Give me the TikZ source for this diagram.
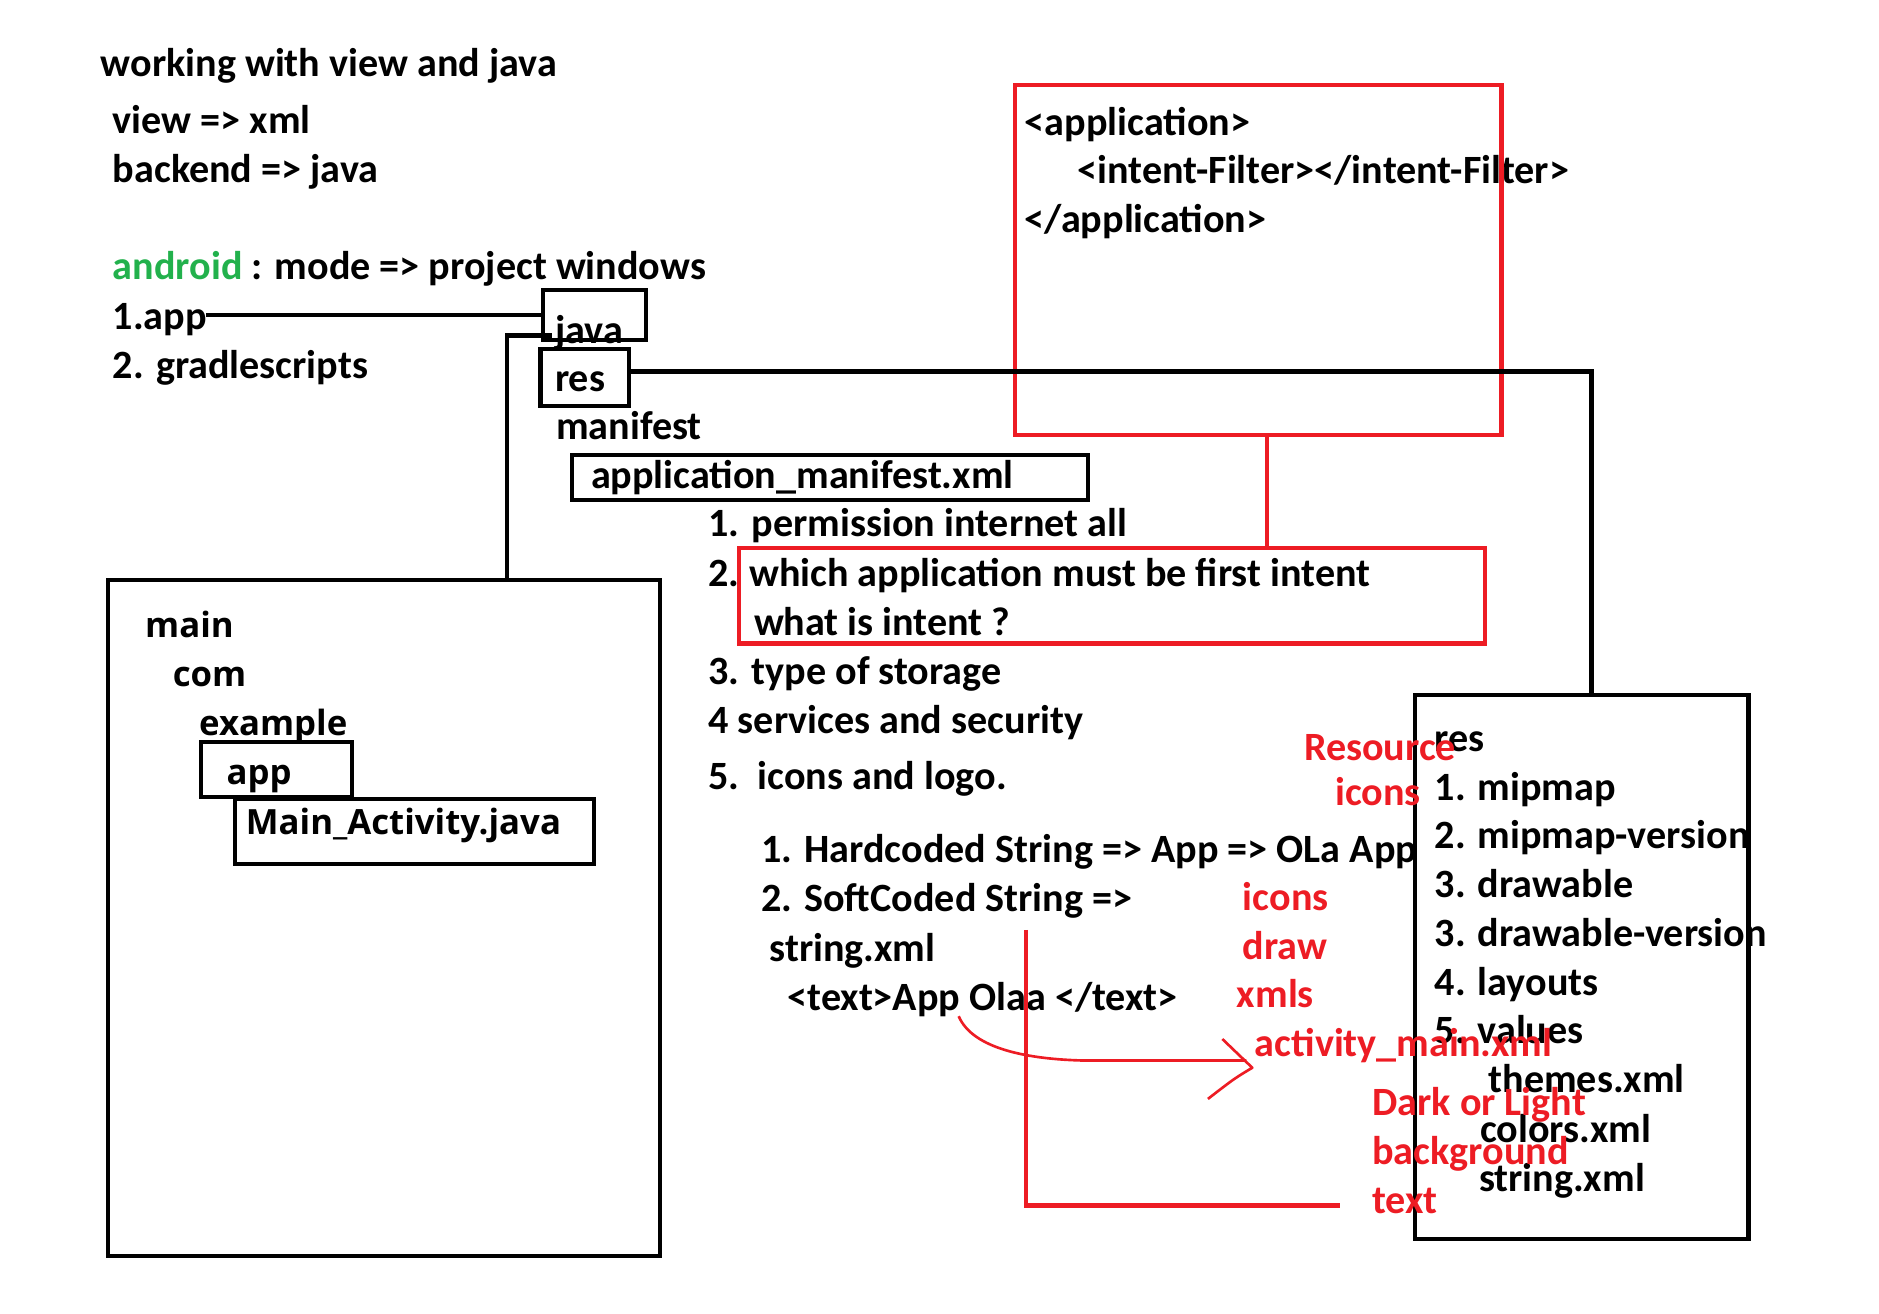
\documentclass[tikz,border=0pt]{standalone}
\usepackage{fontspec}
\setmainfont{Carlito}
\newfontfamily\wide{Open Sans}
\definecolor{pred}{HTML}{ED1C24}
\definecolor{pgreen}{HTML}{22B14C}
\tikzset{
  txt/.style={anchor=base west, inner sep=0pt, font=\fontsize{33.5}{40}\selectfont\bfseries},
  wtxt/.style={anchor=base west, inner sep=0pt, font=\wide\fontsize{29}{36}\selectfont\bfseries},
  rtxt/.style={txt, text=pred},
  bbox/.style={draw=black, line width=3.5pt, anchor=north west, inner sep=0pt, outer sep=0pt},
  rbox/.style={draw=pred, line width=3.5pt, anchor=north west, inner sep=0pt, outer sep=0pt},
  bline/.style={draw=black, line width=3.5pt},
  rline/.style={draw=pred, line width=3.5pt},
}
\begin{document}
\begin{tikzpicture}[x=1pt,y=-1pt]
\useasboundingbox (0,0) rectangle (1568,1096);
% top-left texts
\node[txt] (t1) at (84,64) {working with view and java};
\node[txt] (t2) at (94,111) {view => xml};
\node[txt] (t3) at (94,152) {backend => java};
\node[txt] (t4) at (94,233) {\textcolor{pgreen}{android} : mode => project windows};
\node[txt] (napp) at (94,275) {1.app};
\node[txt] (t6) at (94,316) {2. gradlescripts};
\node[txt] (tjava) at (463,287) {java};
\node[txt] (tres) at (463,327) {res};
\node[txt] (tman) at (464,367) {manifest};
\node[txt] (tamx) at (493,408) {application\_manifest.xml};
\node[txt] (p1) at (591,448) {1. permission internet all};
\node[txt] (p2) at (591,489) {2.};
\node[txt] (p2a) at (625,489) {which application must be first intent};
\node[txt] (p2b) at (629,530) {what is intent ?};
\node[txt] (p3) at (591,571) {3. type of storage};
\node[txt] (p4) at (591,612) {4 services and security};
\node[txt] (p5) at (591,659) {5.\ \ icons and logo.};
\node[txt] (h1) at (635,720) {1. Hardcoded String => App => OLa App};
\node[txt] (h2) at (635,761) {2. SoftCoded String =>};
\node[txt] (h3) at (642,802) {string.xml};
\node[txt] (h4) at (657,843) {<text>App Olaa </text>};
% application box texts
\node[txt] (a1) at (855,113) {<application>};
\node[txt] (a2) at (899,153) {<intent-Filter></intent-Filter>};
\node[txt] (a3) at (855,194) {</application>};
% main box texts
\node[wtxt] (m1) at (121,532) {main};
\node[wtxt] (m2) at (144,573) {com};
\node[wtxt] (m3) at (166,614) {example};
\node[wtxt] (m4) at (189,655) {app};
\node[wtxt] (m5) at (205,696) {Main\_Activity.java};
% res box texts
\node[txt] (r0) at (1197,627) {res};
\node[txt] (r1) at (1197,668) {1. mipmap};
\node[txt] (r2) at (1197,708) {2. mipmap-version};
\node[txt] (r3) at (1197,749) {3. drawable};
\node[txt] (r4) at (1197,790) {3. drawable-version};
\node[txt] (r5) at (1197,831) {4. layouts};
\node[txt] (r6) at (1197,871) {5. values};
\node[txt] (r7) at (1242,912) {themes.xml};
\node[txt] (r8) at (1235,953) {colors.xml};
\node[txt] (r9) at (1234,994) {string.xml};
% boxes
\node[bbox, minimum width=86pt, minimum height=42pt] (javabox) at (453,242) {};
\node[bbox, minimum width=74pt, minimum height=48pt] (resbox) at (451,291) {};
\node[bbox, minimum width=431pt, minimum height=37pt] (amxbox) at (477,380) {};
\node[bbox, minimum width=461pt, minimum height=564pt] (mainbox) at (90,484) {};
\node[bbox, minimum width=126pt, minimum height=46pt] (appbox) at (168,619) {};
\node[bbox, minimum width=300pt, minimum height=54pt] (mabox) at (196,667) {};
\node[bbox, minimum width=278pt, minimum height=454pt] (resbig) at (1181,580) {};
\node[rbox, minimum width=406pt, minimum height=292pt] (applbox) at (847,71) {};
\node[rbox, minimum width=622pt, minimum height=80pt] (intentbox) at (617,457) {};
% black connectors
\coordinate (c1) at (172,263);
\draw[bline] (c1) -- (c1 -| javabox.west);
\coordinate (c2) at (423,280);
\coordinate (c2e) at (461,280);
\draw[bline] (c2 |- mainbox.north) -- (c2) -- (c2e);
\coordinate (c3) at (1328,310);
\draw[bline] (resbox.east |- c3) -- (c3) -- (c3 |- resbig.north);
% red connectors
\coordinate (c4) at (1057,0);
\draw[rline] (c4 |- applbox.south) -- (c4 |- intentbox.north);
\coordinate (c5) at (856,776);
\coordinate (c6) at (856,1006);
\coordinate (c7) at (1118,1006);
\draw[rline] (c5) -- (c6) -- (c7);
\coordinate (c8) at (800,848);
\coordinate (c9) at (1040,885);
\draw[draw=pred, line width=2.2pt] (c8) .. controls (812,876) and (860,884) .. (905,885) -- (c9);
\coordinate (c10) at (1020,867);
\coordinate (c11) at (1045,891);
\coordinate (c12) at (1008,917);
\draw[draw=pred, line width=2.2pt, line join=round] (c10) -- (c11) .. controls (1030,900) .. (c12);
% red texts
\node[rtxt] (e1) at (1037,760) {icons};
\node[rtxt] (e2) at (1037,801) {draw};
\node[rtxt] (e3) at (1032,841) {xmls};
\node[rtxt] (e4) at (1047,882) {activity\_main.xml};
\node[rtxt] (e5) at (1088,635) {Resource};
\node[rtxt] (e6) at (1114,672) {icons};
\node[rtxt] (e7) at (1145,931) {Dark or Light};
\node[rtxt] (e8) at (1145,972) {background};
\node[rtxt] (e9) at (1145,1013) {text};
\end{tikzpicture}
\end{document}
